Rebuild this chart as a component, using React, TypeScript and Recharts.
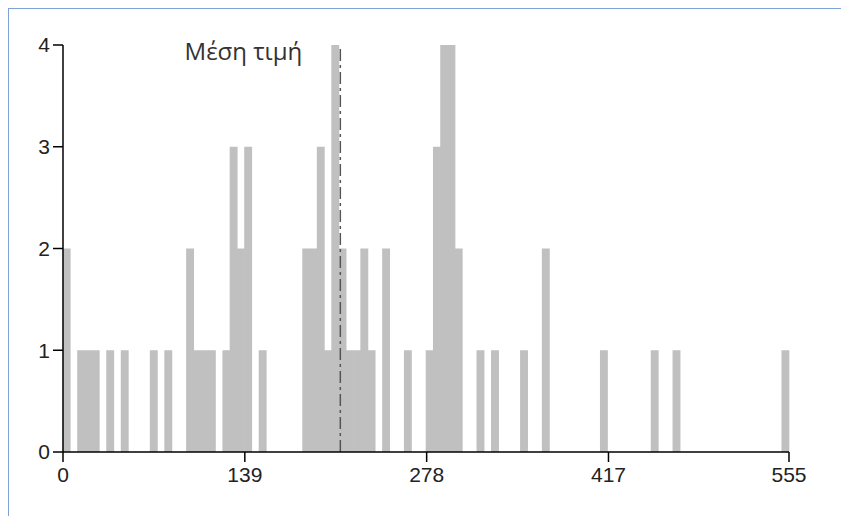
import { BarChart, Bar, XAxis, YAxis, ReferenceLine } from "recharts";

// histogram bins of width 5.55 over [0, 555]; only non-empty bins listed
const binWidth = 5.55;
const binIndex = [0, 2, 3, 4, 6, 8, 12, 14, 17, 18, 19, 20, 22, 23, 24, 25, 27, 33, 34, 35, 36, 37, 38, 39, 40, 41, 42, 44, 47, 50, 51, 52, 53, 54, 57, 59, 63, 66, 74, 81, 84, 99];
const binCount = [2, 1, 1, 1, 1, 1, 1, 1, 2, 1, 1, 1, 1, 3, 2, 3, 1, 2, 2, 3, 1, 4, 2, 1, 1, 2, 1, 2, 1, 1, 3, 4, 4, 2, 1, 1, 1, 2, 1, 1, 1, 1];
const xTicks = [0, 139, 278, 417, 555];
const yTicks = [0, 1, 2, 3, 4];
const meanValue = 212;
const meanLabel = "Μέση τιμή";

const data = binIndex.map((b, i) => ({
  x: (b + 0.5) * binWidth,
  count: binCount[i],
}));

const tickFont = {
  fontSize: 21,
  fill: "#222",
  fontFamily: "'Liberation Sans Narrow', 'Liberation Sans', Arial, sans-serif",
};

// plain rect, slightly widened so neighbouring bins join without seams
function BinRect(props: any) {
  const { x, y, width, height } = props;
  if (!height) return null;
  return <rect x={x - 0.3} y={y} width={width + 0.9} height={height} fill="#c0c0c0" />;
}

function MeanLabel(props: any) {
  const { viewBox } = props;
  return (
    <text
      x={viewBox.x - 38}
      y={viewBox.y + 15}
      textAnchor="end"
      fontSize={24}
      fill="#333"
      fontFamily="'Open Sans', 'Noto Sans', sans-serif"
    >
      {meanLabel}
    </text>
  );
}

export default function App() {
  return (
    <div
      style={{
        position: "fixed",
        top: 8,
        left: 8,
        right: 0,
        bottom: 0,
        borderTop: "1px solid #7ba3d8",
        borderLeft: "1px solid #7ba3d8",
        background: "#fff",
      }}
    >
      <BarChart
        width={800}
        height={483}
        data={data}
        margin={{ top: 36, right: 20, bottom: 0, left: 0 }}
        barCategoryGap={0}
        barGap={0}
      >
        <XAxis
          dataKey="x"
          type="number"
          domain={[0, 555]}
          ticks={xTicks}
          interval={0}
          height={40}
          tickSize={10}
          tickMargin={5}
          tick={tickFont}
          stroke="#000"
          strokeWidth={1.5}
          tickLine={{ stroke: "#000", strokeWidth: 1.5 }}
        />
        <YAxis
          type="number"
          domain={[0, 4]}
          ticks={yTicks}
          width={54}
          tickSize={10}
          tickMargin={3}
          tick={tickFont}
          stroke="#000"
          strokeWidth={1.5}
          tickLine={{ stroke: "#000", strokeWidth: 1.5 }}
        />
        <Bar
          dataKey="count"
          fill="#c0c0c0"
          shape={(p: any) => <BinRect {...p} />}
          isAnimationActive={false}
        />
        <ReferenceLine
          x={meanValue}
          stroke="#555"
          strokeWidth={1.5}
          strokeDasharray="12 4 3 4"
          label={(p: any) => <MeanLabel {...p} />}
        />
      </BarChart>
    </div>
  );
}
